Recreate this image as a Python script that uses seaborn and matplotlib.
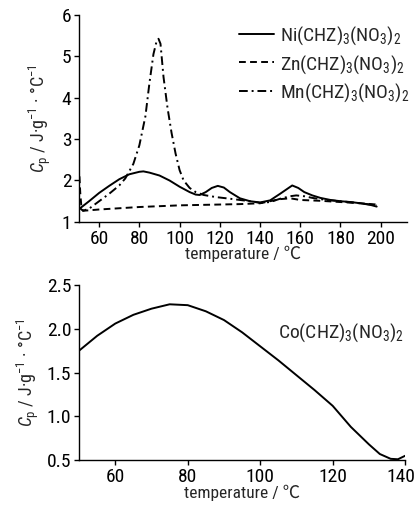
import numpy as np
import pandas as pd
import matplotlib
matplotlib.use("Agg")
import matplotlib.pyplot as plt
import matplotlib.transforms as mtransforms
import seaborn as sns

# ---------------- data ----------------
ni_x = [50, 55, 60, 65, 70, 75, 80, 82, 85, 90, 95, 100, 105, 108, 110, 113, 116, 119, 122, 125,
        130, 135, 140, 145, 150, 153, 156, 159, 162, 166, 170, 175, 180, 185, 190, 195, 198]
ni_y = [1.31, 1.50, 1.70, 1.87, 2.03, 2.15, 2.21, 2.22, 2.19, 2.12, 2.00, 1.85, 1.72, 1.66, 1.65, 1.72,
        1.82, 1.87, 1.83, 1.72, 1.57, 1.50, 1.47, 1.52, 1.68, 1.78, 1.88, 1.82, 1.72, 1.64, 1.58,
        1.53, 1.50, 1.48, 1.45, 1.41, 1.37]

zn_x = [50.2, 50.6, 51.2, 52, 55, 60, 70, 80, 90, 100, 110, 120, 130, 140, 145, 150, 155, 160,
        165, 170, 180, 190, 198]
zn_y = [2.10, 1.70, 1.35, 1.27, 1.28, 1.30, 1.33, 1.36, 1.38, 1.40, 1.41, 1.42, 1.43, 1.45, 1.50,
        1.55, 1.57, 1.53, 1.52, 1.51, 1.48, 1.45, 1.42]

mn_x = [50, 52, 55, 60, 65, 70, 73, 77, 80, 83, 85, 87, 88.5, 89.5, 90.5, 92, 94, 96, 98, 100,
        102, 105, 108, 112, 118, 125, 130, 135, 140, 145, 150, 155, 158, 162, 166, 170, 175, 180,
        190, 198]
mn_y = [1.35, 1.27, 1.32, 1.50, 1.68, 1.88, 2.05, 2.40, 2.85, 3.55, 4.35, 5.05, 5.35, 5.42, 5.30,
        4.50, 3.75, 3.15, 2.65, 2.25, 2.00, 1.82, 1.72, 1.65, 1.60, 1.56, 1.53, 1.50, 1.46, 1.48,
        1.56, 1.62, 1.64, 1.62, 1.58, 1.55, 1.52, 1.50, 1.45, 1.40]

co_x = [50, 55, 60, 65, 70, 75, 80, 85, 90, 95, 100, 105, 110, 115, 120, 125, 130, 133, 136,
        138, 140]
co_y = [1.75, 1.92, 2.06, 2.16, 2.23, 2.28, 2.27, 2.20, 2.10, 1.96, 1.80, 1.64, 1.47, 1.30, 1.12,
        0.88, 0.68, 0.57, 0.515, 0.51, 0.55]

labels = ["Ni(CHZ)$_3$(NO$_3$)$_2$", "Zn(CHZ)$_3$(NO$_3$)$_2$", "Mn(CHZ)$_3$(NO$_3$)$_2$"]
co_label = "Co(CHZ)$_3$(NO$_3$)$_2$"
top_yticks = [1, 2, 3, 4, 5, 6]
top_xticks = [60, 80, 100, 120, 140, 160, 180, 200]
bot_yticks = [0.5, 1.0, 1.5, 2.0, 2.5]
bot_xticks = [60, 80, 100, 120, 140]

# ---------------- style ----------------
sns.set_theme(style="ticks")
MAIN = "Roboto Condensed"
FONT = [MAIN, "Noto Sans CJK SC", "DejaVu Sans"]
plt.rcParams["font.family"] = FONT
plt.rcParams["mathtext.fontset"] = "custom"
plt.rcParams["mathtext.rm"] = MAIN
plt.rcParams["mathtext.it"] = MAIN + ":italic"
plt.rcParams["mathtext.default"] = "regular"
plt.rcParams["axes.linewidth"] = 1.0

XLABEL = "temperature / \u2103"
YLABEL = "$\\mathit{C}_\\mathrm{p}$ / J\u00b7g$^{-1}$ \u00b7 \u00b0C$^{-1}$"

fig = plt.figure(figsize=(4.16, 5.09), dpi=100)
ax1 = fig.add_axes([0.190, 0.564, 0.788, 0.407])
ax2 = fig.add_axes([0.190, 0.096, 0.784, 0.344])

df = pd.concat([
    pd.DataFrame({"T": ni_x, "Cp": ni_y, "s": labels[0]}),
    pd.DataFrame({"T": zn_x, "Cp": zn_y, "s": labels[1]}),
    pd.DataFrame({"T": mn_x, "Cp": mn_y, "s": labels[2]}),
])
sns.lineplot(data=df, x="T", y="Cp", hue="s", style="s", ax=ax1,
             palette=["black"] * 3, dashes=[(None, None), (3.5, 2.2), (4.5, 2, 1, 2)],
             linewidth=1.4, sort=False, estimator=None)
ax1.set_xlim(50, 213)
ax1.set_ylim(1, 6)
ax1.set_xticks(top_xticks)
ax1.set_yticks(top_yticks)
ax1.set_xlabel(XLABEL, fontsize=12.5, labelpad=-1)
ax1.set_ylabel(YLABEL, fontsize=13, labelpad=6)
leg = ax1.legend(loc="upper right", frameon=False, fontsize=14, handlelength=1.8,
                 labelspacing=0.3, borderaxespad=0.0, handletextpad=0.3,
                 bbox_to_anchor=(1.03, 0.99))
for h in leg.get_lines():
    h.set_linewidth(1.4)

sns.lineplot(x=co_x, y=co_y, ax=ax2, color="black", linewidth=1.4, sort=False, estimator=None)
ax2.set_xlim(50, 140)
ax2.set_ylim(0.5, 2.5)
ax2.set_xticks(bot_xticks)
ax2.set_yticks(bot_yticks)
ax2.set_yticklabels([f"{v:.1f}" for v in bot_yticks])
ax2.set_xlabel(XLABEL, fontsize=12.5, labelpad=-1)
ax2.set_ylabel(YLABEL, fontsize=13, labelpad=4)
ax2.text(139.5, 1.95, co_label, ha="right", va="center", fontsize=14)

for ax in (ax1, ax2):
    sns.despine(ax=ax)
    ax.tick_params(direction="out", length=3.5, width=1.0, labelsize=14, pad=2, colors="black")
    for sp in ax.spines.values():
        sp.set_color("black")

# keep the last bottom tick label fully inside the canvas
last = ax2.get_xticklabels()[-1]
last.set_transform(last.get_transform() + mtransforms.ScaledTranslation(-3 / 72, 0, fig.dpi_scale_trans))

fig.savefig("out.png", dpi=100)
